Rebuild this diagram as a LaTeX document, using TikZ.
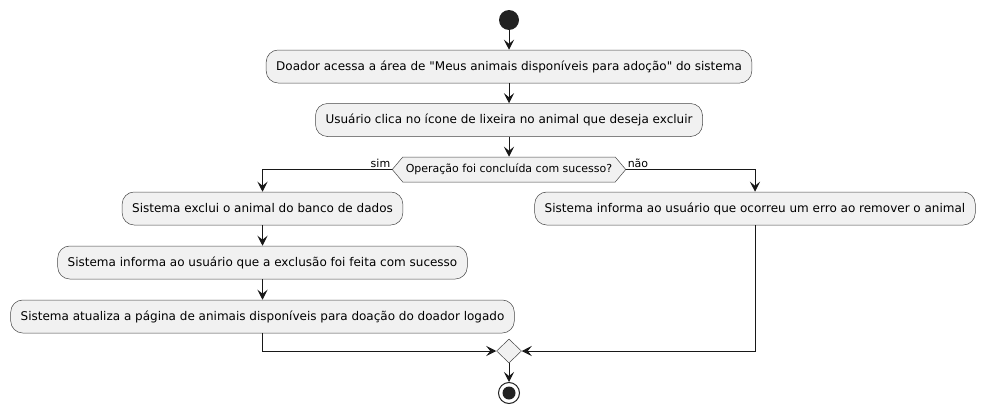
\documentclass[tikz,border=0pt]{standalone}
\usepackage{fontspec}
\setmainfont{DejaVu Sans}[Ligatures=TeXOff]
\usetikzlibrary{arrows.meta, shapes.geometric, shapes.symbols}
\definecolor{actFill}{HTML}{F1F1F1}
\definecolor{actLine}{HTML}{181818}
\definecolor{dotFill}{HTML}{222222}
\newcommand{\flowArrow}{{Stealth[length=10pt, width=10pt, inset=4pt]}}
\tikzset{
	action/.style={rectangle, rounded corners=12pt, draw=actLine!80, line width=0.5pt, fill=actFill, minimum height=33pt, inner xsep=10pt, font=\fontsize{12}{14}\selectfont},
	choicebox/.style={signal, signal to=east and west, signal pointer angle=100, draw=actLine!80, line width=0.5pt, fill=actFill, minimum height=25pt, inner xsep=3pt, inner ysep=0pt, font=\fontsize{11}{13}\selectfont},
	mergebox/.style={diamond, draw=actLine!80, line width=0.5pt, fill=actFill, minimum width=25pt, minimum height=24pt, inner sep=0pt},
	branch/.style={inner sep=1.5pt, font=\fontsize{11}{13}\selectfont},
	startdot/.style={circle, fill=dotFill, minimum size=20pt, inner sep=0pt},
	stopring/.style={circle, draw=dotFill, line width=1pt, fill=white, minimum size=21pt, inner sep=0pt},
	stopdot/.style={circle, fill=dotFill, minimum size=13pt, inner sep=0pt}
}

\begin{document}
\begin{tikzpicture}[x=1pt, y=-1pt]
	\useasboundingbox (0,0) rectangle (986,415);
	\def\xM{509}
	\def\xL{262.5}
	\def\xR{755}

	\node[startdot]	(begin)		at (\xM,20)		{};
	\node[action]		(acessa)	at (\xM,66.5)	{Doador acessa a área de "Meus animais disponíveis para adoção" do sistema};
	\node[action]		(clica)		at (\xM,120)	{Usuário clica no ícone de lixeira no animal que deseja excluir};
	\node[choicebox]	(choice)	at (\xM,169.5)	{Operação foi concluída com sucesso?};
		\node[branch, anchor=south east]	(sim)	at (choice.west)	{sim};
		\node[branch, anchor=south west]	(nao)	at (choice.east)	{não};

	% ramo sim
	\node[action]		(exclui)	at (\xL,208.5)	{Sistema exclui o animal do banco de dados};
	\node[action]		(informa)	at (\xL,262.5)	{Sistema informa ao usuário que a exclusão foi feita com sucesso};
	\node[action]		(atualiza)	at (\xL,316.5)	{Sistema atualiza a página de animais disponíveis para doação do doador logado};
	% ramo não
	\node[action]		(erro)		at (\xR,208.5)	{Sistema informa ao usuário que ocorreu um erro ao remover o animal};

	\node[mergebox]	(merge)		at (\xM,351)	{};
	\node[stopring]	(stop)		at (\xM,393)	{};
		\node[stopdot]	(stopin)	at (stop)		{};

	\begin{scope}[line width=1pt, draw=actLine]
		\draw[-\flowArrow]	(begin.south) -- (acessa.north);
		\draw[-\flowArrow]	(acessa.south) -- (clica.north);
		\draw[-\flowArrow]	(clica.south) -- (choice.north);
		\draw[-\flowArrow]	(choice.west) -| (exclui.north);
		\draw[-\flowArrow]	(choice.east) -| (erro.north);
		\draw[-\flowArrow]	(exclui.south) -- (informa.north);
		\draw[-\flowArrow]	(informa.south) -- (atualiza.north);
		\draw[-\flowArrow]	(atualiza.south) |- (merge.west);
		\draw[-\flowArrow]	(erro.south) |- (merge.east);
		\draw[-\flowArrow]	(merge.south) -- (stop.north);
	\end{scope}
\end{tikzpicture}
\end{document}
